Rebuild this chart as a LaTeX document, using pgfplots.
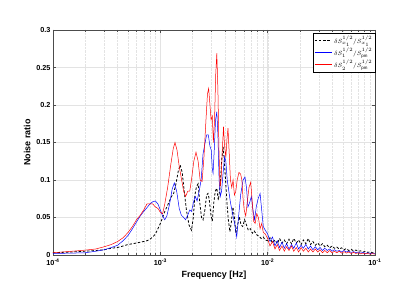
\documentclass[border=0pt]{standalone}
\usepackage{fontspec}
\setmainfont{Liberation Sans}
\usepackage{pgfplots}
\pgfplotsset{compat=1.18}
\begin{document}
\begin{tikzpicture}
\begin{axis}[
 scale only axis, width=322bp, height=225bp,
 xmode=log, xmin=1e-4, xmax=1e-1, ymin=0, ymax=0.3,
 xtick={1e-4,1e-3,1e-2,1e-1},
 xticklabels={10\textsuperscript{-4},10\textsuperscript{-3},10\textsuperscript{-2},10\textsuperscript{-1}},
 ytick={0,0.05,0.1,0.15,0.2,0.25,0.3},
 yticklabels={0,0.05,0.1,0.15,0.2,0.25,0.3},
 tick label style={font=\fontsize{7.3}{8}\selectfont\bfseries},
 yticklabel style={xshift=1bp},
 xticklabel style={yshift=-0.5bp},
 label style={font=\fontsize{9}{10}\selectfont\bfseries},
 xlabel={Frequency [Hz]}, ylabel={Noise ratio},
 xlabel style={yshift=1bp}, ylabel style={yshift=-1bp},
 grid=both,
 major grid style={gray!22, line width=0.4pt},
 minor grid style={gray!22, densely dotted, line width=0.3pt},
 axis line style={gray!60!black, line width=0.6pt},
 tick style={gray!60!black, line width=0.4pt},
 tick align=inside,
 major tick length=3bp, minor tick length=1.6bp,
 legend style={at={(1,1)}, anchor=north east, yshift=-3bp, xshift=0.5bp,
   font=\fontsize{6.3}{6.3}\selectfont, draw=black, line width=0.4pt, inner sep=1pt,
   row sep=-0.5pt, cells={anchor=west}},
 legend image post style={line width=0.8pt},
]
\coordinate (bl) at (rel axis cs:0,0);
\coordinate (tr) at (rel axis cs:1,1);
\addplot[black, dashed, line width=0.8pt, dash pattern=on 2.5pt off 1.8pt] coordinates {
(1e-4,0.003)(1.5e-4,0.004)(2e-4,0.005)(2.5e-4,0.006)(3e-4,0.007)(3.5e-4,0.009)(4e-4,0.01)(4.5e-4,0.012)(5e-4,0.014)(5.5e-4,0.015)(6e-4,0.016)(6.5e-4,0.017)(7e-4,0.018)(7.5e-4,0.019)(8e-4,0.021)(8.5e-4,0.024)(9e-4,0.028)(9.5e-4,0.035)
(1e-3,0.042)(1.05e-3,0.05)(1.1e-3,0.058)(1.15e-3,0.064)(1.2e-3,0.07)(1.27e-3,0.078)(1.33e-3,0.082)(1.4e-3,0.095)(1.47e-3,0.112)(1.53e-3,0.12)(1.6e-3,0.11)(1.67e-3,0.085)(1.75e-3,0.06)(1.85e-3,0.04)(1.95e-3,0.033)
(2.03e-3,0.05)(2.1e-3,0.08)(2.17e-3,0.091)(2.25e-3,0.095)(2.33e-3,0.07)(2.42e-3,0.05)(2.5e-3,0.047)(2.6e-3,0.06)(2.7e-3,0.08)(2.78e-3,0.082)(2.85e-3,0.075)(2.95e-3,0.055)
(3.05e-3,0.045)(3.15e-3,0.07)(3.25e-3,0.085)(3.36e-3,0.089)(3.47e-3,0.073)(3.6e-3,0.09)(3.72e-3,0.125)(3.85e-3,0.144)(3.95e-3,0.125)(4.05e-3,0.1)(4.2e-3,0.065)(4.3e-3,0.047)(4.45e-3,0.031)(4.6e-3,0.045)(4.75e-3,0.064)(4.9e-3,0.05)
(5.05e-3,0.029)(5.25e-3,0.04)(5.45e-3,0.051)(5.65e-3,0.04)(5.85e-3,0.038)(6.1e-3,0.047)(6.35e-3,0.04)(6.6e-3,0.033)(6.9e-3,0.035)(7.2e-3,0.029)(7.5e-3,0.032)(7.9e-3,0.027)(8.3e-3,0.025)(8.7e-3,0.022)(9.1e-3,0.024)(9.5e-3,0.02)
(0.0100,0.019)(0.0105,0.023)(0.0111,0.016)(0.0117,0.02)(0.0123,0.015)(0.0129,0.022)(0.0136,0.016)(0.0143,0.02)(0.0150,0.015)(0.0158,0.021)(0.0167,0.015)(0.0175,0.022)(0.0185,0.016)(0.0194,0.02)(0.0205,0.014)(0.0215,0.02)(0.0227,0.015)(0.0239,0.022)(0.0251,0.014)(0.0264,0.018)(0.0278,0.013)(0.0293,0.016)(0.0308,0.012)(0.0324,0.015)(0.0341,0.011)(0.0359,0.013)(0.0378,0.0095)(0.0398,0.012)(0.0419,0.009)(0.0441,0.0105)(0.0464,0.008)(0.0489,0.0095)(0.0514,0.007)(0.0541,0.0085)(0.0570,0.006)(0.0600,0.0075)(0.0631,0.0055)(0.0664,0.0065)(0.0699,0.005)(0.0736,0.0055)(0.0774,0.004)(0.0815,0.0048)(0.0858,0.0035)(0.0903,0.0042)(0.0950,0.003)(0.1000,0.0033)
};
\addlegendentry{$\delta S_{x_1}^{1/2}/S_{x_1}^{1/2}$}
\addplot[blue, line width=0.5pt] coordinates {
(1e-4,0.002)(1.5e-4,0.0025)(2e-4,0.003)(2.5e-4,0.005)(3e-4,0.007)(3.5e-4,0.01)(4e-4,0.013)(4.5e-4,0.019)(5e-4,0.026)(5.5e-4,0.035)(6e-4,0.044)(6.5e-4,0.052)(7e-4,0.058)(7.5e-4,0.063)(8e-4,0.068)(8.5e-4,0.071)(9e-4,0.072)(9.5e-4,0.068)
(1e-3,0.06)(1.05e-3,0.052)(1.1e-3,0.047)(1.15e-3,0.052)(1.22e-3,0.068)(1.29e-3,0.088)(1.35e-3,0.096)(1.42e-3,0.085)(1.5e-3,0.062)(1.57e-3,0.053)(1.65e-3,0.05)(1.72e-3,0.047)(1.8e-3,0.053)(1.88e-3,0.06)(1.95e-3,0.058)
(2.05e-3,0.072)(2.12e-3,0.078)(2.2e-3,0.072)(2.3e-3,0.085)(2.4e-3,0.1)(2.5e-3,0.135)(2.6e-3,0.148)(2.7e-3,0.16)(2.8e-3,0.16)(2.9e-3,0.145)(2.98e-3,0.14)
(3.05e-3,0.115)(3.1e-3,0.109)(3.18e-3,0.14)(3.27e-3,0.18)(3.36e-3,0.191)(3.44e-3,0.16)(3.53e-3,0.1)(3.62e-3,0.078)(3.72e-3,0.085)(3.85e-3,0.11)(3.97e-3,0.131)(4.08e-3,0.125)(4.2e-3,0.1)(4.35e-3,0.085)(4.5e-3,0.07)(4.7e-3,0.056)(4.95e-3,0.04)
(5.15e-3,0.024)(5.35e-3,0.05)(5.6e-3,0.08)(5.9e-3,0.1)(6.15e-3,0.104)(6.35e-3,0.09)(6.55e-3,0.064)(6.8e-3,0.07)(7.05e-3,0.078)(7.3e-3,0.06)(7.55e-3,0.047)(7.85e-3,0.065)(8.15e-3,0.075)(8.5e-3,0.082)(8.8e-3,0.06)(9.1e-3,0.038)(9.5e-3,0.033)
(0.0100,0.028)(0.0105,0.018)(0.0111,0.024)(0.0117,0.012)(0.0123,0.019)(0.0129,0.010)(0.0136,0.017)(0.0143,0.009)(0.0150,0.015)(0.0158,0.008)(0.0167,0.014)(0.0175,0.009)(0.0185,0.016)(0.0194,0.008)(0.0205,0.013)(0.0215,0.009)(0.0227,0.014)(0.0239,0.008)(0.0251,0.012)(0.0264,0.007)(0.0278,0.011)(0.0293,0.007)(0.0308,0.010)(0.0324,0.006)(0.0341,0.009)(0.0359,0.006)(0.0378,0.008)(0.0398,0.005)(0.0419,0.007)(0.0441,0.005)(0.0464,0.006)(0.0489,0.004)(0.0514,0.006)(0.0541,0.004)(0.0570,0.005)(0.0600,0.0035)(0.0631,0.0045)(0.0664,0.003)(0.0699,0.004)(0.0736,0.0025)(0.0774,0.0035)(0.0815,0.002)(0.0858,0.003)(0.0903,0.002)(0.0950,0.0025)(0.1000,0.002)
};
\addlegendentry{$\delta S_{1}^{1/2}/S_{\mathrm{pm}}^{1/2}$}
\addplot[red, line width=0.5pt] coordinates {
(1e-4,0.003)(1.5e-4,0.005)(2e-4,0.0065)(2.5e-4,0.008)(3e-4,0.011)(3.5e-4,0.014)(4e-4,0.018)(4.5e-4,0.023)(5e-4,0.03)(5.5e-4,0.038)(6e-4,0.047)(6.5e-4,0.053)(7e-4,0.06)(7.5e-4,0.068)(8e-4,0.068)(8.5e-4,0.068)(9e-4,0.064)(9.5e-4,0.062)
(1e-3,0.057)(1.05e-3,0.055)(1.1e-3,0.068)(1.17e-3,0.09)(1.25e-3,0.12)(1.32e-3,0.142)(1.37e-3,0.15)(1.43e-3,0.14)(1.5e-3,0.118)(1.58e-3,0.1)(1.65e-3,0.085)(1.72e-3,0.078)(1.8e-3,0.085)(1.88e-3,0.085)(1.95e-3,0.1)
(2.05e-3,0.125)(2.15e-3,0.137)(2.25e-3,0.125)(2.35e-3,0.1)(2.45e-3,0.098)(2.55e-3,0.13)(2.65e-3,0.175)(2.75e-3,0.215)(2.82e-3,0.222)(2.9e-3,0.2)(2.97e-3,0.18)
(3.05e-3,0.185)(3.12e-3,0.15)(3.2e-3,0.18)(3.28e-3,0.24)(3.36e-3,0.269)(3.44e-3,0.22)(3.52e-3,0.14)(3.6e-3,0.09)(3.68e-3,0.1)(3.78e-3,0.14)(3.88e-3,0.171)(3.97e-3,0.145)(4.08e-3,0.13)(4.18e-3,0.155)(4.27e-3,0.169)(4.37e-3,0.14)(4.5e-3,0.1)(4.63e-3,0.09)(4.76e-3,0.1)(4.9e-3,0.08)
(5.05e-3,0.085)(5.2e-3,0.1)(5.4e-3,0.11)(5.6e-3,0.108)(5.75e-3,0.1)(5.9e-3,0.075)(6.05e-3,0.06)(6.25e-3,0.052)(6.45e-3,0.07)(6.7e-3,0.09)(6.95e-3,0.097)(7.15e-3,0.075)(7.4e-3,0.045)(7.65e-3,0.042)(7.9e-3,0.055)(8.2e-3,0.05)(8.5e-3,0.035)(8.8e-3,0.042)(9.1e-3,0.03)(9.5e-3,0.028)
(0.0100,0.022)(0.0105,0.012)(0.0111,0.018)(0.0117,0.008)(0.0123,0.014)(0.0129,0.006)(0.0136,0.012)(0.0143,0.005)(0.0150,0.011)(0.0158,0.006)(0.0167,0.012)(0.0175,0.005)(0.0185,0.010)(0.0194,0.004)(0.0205,0.010)(0.0215,0.005)(0.0227,0.009)(0.0239,0.004)(0.0251,0.008)(0.0264,0.004)(0.0278,0.008)(0.0293,0.004)(0.0308,0.007)(0.0324,0.003)(0.0341,0.006)(0.0359,0.003)(0.0378,0.006)(0.0398,0.003)(0.0419,0.005)(0.0441,0.003)(0.0464,0.005)(0.0489,0.0025)(0.0514,0.0045)(0.0541,0.0025)(0.0570,0.004)(0.0600,0.002)(0.0631,0.0035)(0.0664,0.002)(0.0699,0.003)(0.0736,0.0015)(0.0774,0.0025)(0.0815,0.0015)(0.0858,0.002)(0.0903,0.001)(0.0950,0.0018)(0.1000,0.0012)
};
\addlegendentry{$\delta S_{2}^{1/2}/S_{\mathrm{pm}}^{1/2}$}
\end{axis}
\pgfresetboundingbox
\path[use as bounding box] ([shift={(-53bp,-46bp)}]bl) rectangle ([shift={(40bp,30bp)}]tr);
\end{tikzpicture}
\end{document}
